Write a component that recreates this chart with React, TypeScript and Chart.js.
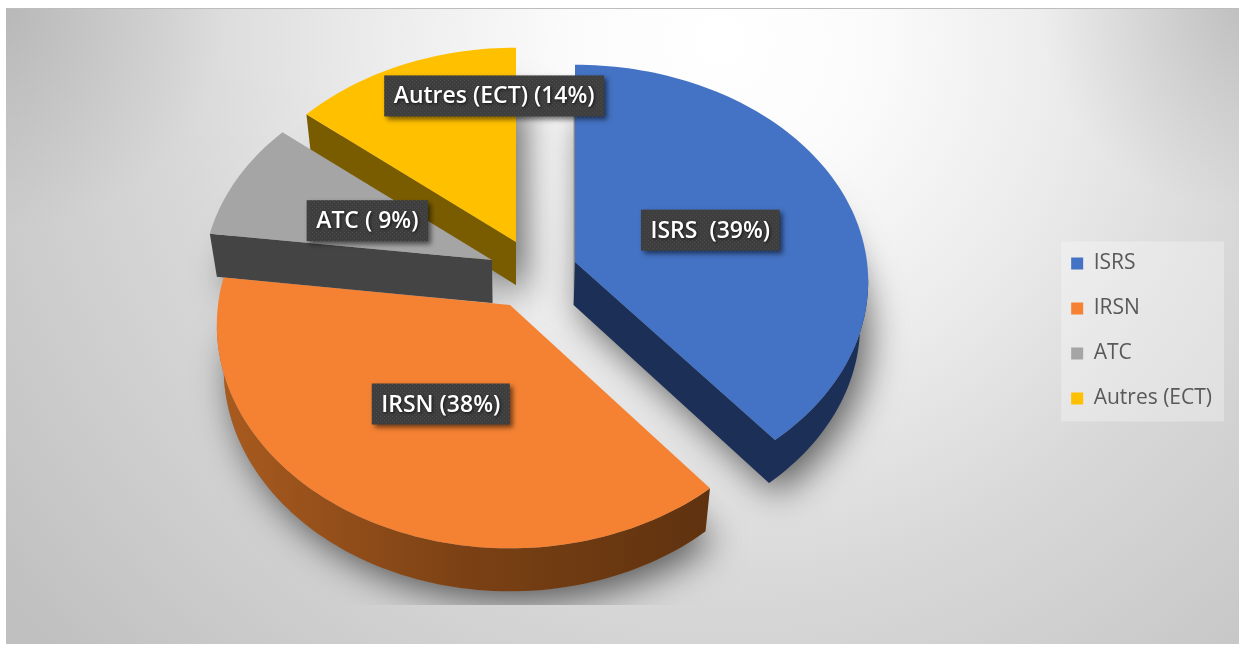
import React, { useEffect, useRef } from "react";
import { Chart, registerables } from "chart.js";

Chart.register(...registerables);

const categories = ["ISRS", "IRSN", "ATC", "Autres (ECT)"];
const shares = [39, 38, 9, 14];
const dataLabels = ["ISRS  (39%)", "IRSN (38%)", "ATC ( 9%)", "Autres (ECT) (14%)"];
const topColors = ["#4472C4", "#F58233", "#A5A5A5", "#FFC000"];

// Perspective view of the exploded disc
const apexes = [[575, 262], [510, 305], [492, 260], [516, 242]];
const scaleX = [1, 1, 0.985, 0.985];
const scaleY = [1, 1.03, 0.985, 0.985];
const labelNudge = [[0, 4], [4, -2], [5, 2], [37, -54]];
const drawOrder = [3, 2, 0, 1];
const RX = 292, RY = 215, PERSP = 0.09, DEPTH = 43, VANISH_X = 516, DEPTH_SHRINK = 0.977;

const project = (i: number, r: number, theta: number) => {
  const u = r * Math.sin(theta), v = r * Math.cos(theta);
  const w = 1 + PERSP * v;
  return [apexes[i][0] + (scaleX[i] * RX * u) / w, apexes[i][1] - (scaleY[i] * RY * v) / w];
};
const drop = (p: number[]) => [VANISH_X + (p[0] - VANISH_X) * DEPTH_SHRINK, p[1] + DEPTH];

const outline = (i: number, a0: number, a1: number) => {
  const pts: number[][] = [[...apexes[i]]];
  const n = Math.max(8, Math.round((a1 - a0) * 40));
  for (let k = 0; k <= n; k++) pts.push(project(i, 1, a0 + ((a1 - a0) * k) / n));
  return pts;
};
const trace = (ctx: CanvasRenderingContext2D, pts: number[][]) => {
  ctx.beginPath();
  pts.forEach((p, k) => (k ? ctx.lineTo(p[0], p[1]) : ctx.moveTo(p[0], p[1])));
  ctx.closePath();
};
const sideFill = (ctx: CanvasRenderingContext2D, i: number) => {
  if (i === 1) {
    const g = ctx.createLinearGradient(220, 0, 710, 0);
    g.addColorStop(0, "#A95B1F");
    g.addColorStop(0.5, "#7B4114");
    g.addColorStop(1, "#5F320F");
    return g;
  }
  return ["#1B2F57", "", "#444444", "#7A5C00"][i];
};
// runs of perimeter edges that face the viewer (walking clockwise, they head left)
const frontRuns = (pts: number[][]) => {
  const runs: number[][][] = [];
  let run: number[][] | null = null;
  for (let k = 0; k < pts.length; k++) {
    const a = pts[k], b = pts[(k + 1) % pts.length];
    if (b[0] - a[0] < -1e-6) {
      if (!run) run = [a];
      run.push(b);
    } else if (run) {
      runs.push(run);
      run = null;
    }
  }
  if (run) runs.push(run);
  return runs;
};

const disc3d = {
  id: "disc3d",
  beforeDraw(chart: any) {
    const { ctx, width, height } = chart;
    ctx.save();
    ctx.fillStyle = "#FFFFFF";
    ctx.fillRect(0, 0, width, height);
    const g = ctx.createRadialGradient(720, 40, 0, 720, 40, 900);
    g.addColorStop(0, "#FFFFFF");
    g.addColorStop(0.167, "#FBFBFB");
    g.addColorStop(0.39, "#EBEBEB");
    g.addColorStop(0.61, "#D8D8D8");
    g.addColorStop(0.94, "#C4C4C4");
    g.addColorStop(1, "#C0C0C0");
    ctx.fillStyle = g;
    ctx.fillRect(6, 9, 1233, 635);
    const gl = ctx.createRadialGradient(6, 9, 0, 6, 9, 220);
    gl.addColorStop(0, "rgba(0,0,0,0.1)");
    gl.addColorStop(1, "rgba(0,0,0,0)");
    ctx.fillStyle = gl;
    ctx.fillRect(6, 9, 220, 220);
    const gr = ctx.createRadialGradient(1239, 9, 0, 1239, 9, 200);
    gr.addColorStop(0, "rgba(0,0,0,0.12)");
    gr.addColorStop(1, "rgba(0,0,0,0)");
    ctx.fillStyle = gr;
    ctx.fillRect(1039, 9, 200, 200);
    ctx.fillStyle = "#BDBDBD";
    ctx.fillRect(6, 8, 1233, 1);
    // legend panel, fitted around the legend's own items
    const boxes = chart.legend.legendHitBoxes;
    const first = boxes[0], last = boxes[boxes.length - 1];
    const left = Math.min(...boxes.map((b: any) => b.left)) - 10;
    const right = Math.max(...boxes.map((b: any) => b.left + b.width)) + 12;
    const top = first.top + first.height / 2 - 22;
    const bottom = last.top + last.height / 2 + 23;
    ctx.fillStyle = "rgba(255,255,255,0.3)";
    ctx.fillRect(left, top, right - left, bottom - top);
    ctx.restore();
  },
  beforeDatasetDraw(chart: any) {
    const { ctx } = chart;
    const arcs = chart.getDatasetMeta(0).data;
    const ang = arcs.map((a: any) => [a.startAngle + Math.PI / 2, a.endAngle + Math.PI / 2]);
    ctx.save();
    // soft shadow cast on the backdrop, clipped to the shadow plane
    ctx.save();
    ctx.beginPath();
    ctx.rect(6, 9, 1233, 596);
    ctx.clip();
    ctx.shadowColor = "rgba(0,0,0,0.6)";
    ctx.shadowBlur = 36;
    ctx.shadowOffsetX = 8;
    ctx.shadowOffsetY = 10;
    ctx.fillStyle = "#888";
    for (const i of drawOrder) {
      trace(ctx, outline(i, ang[i][0], ang[i][1]).map(drop));
      ctx.fill();
    }
    ctx.restore();
    for (const i of drawOrder) {
      const pts = outline(i, ang[i][0], ang[i][1]);
      ctx.fillStyle = sideFill(ctx, i);
      for (const run of frontRuns(pts)) {
        trace(ctx, [...run, ...run.map(drop).reverse()]);
        ctx.fill();
      }
      trace(ctx, pts);
      ctx.fillStyle = arcs[i].options.backgroundColor;
      ctx.fill();
    }
    ctx.restore();
    return false;
  },
  afterDraw(chart: any) {
    const { ctx } = chart;
    const arcs = chart.getDatasetMeta(0).data;
    // dotted dark fill of the data labels
    const tile = document.createElement("canvas");
    tile.width = tile.height = 4;
    const tc = tile.getContext("2d")!;
    tc.fillStyle = "#3E3E3E";
    tc.fillRect(0, 0, 4, 4);
    tc.fillStyle = "#4C4C4C";
    tc.fillRect(0, 0, 1, 1);
    tc.fillRect(2, 2, 1, 1);
    const pattern = ctx.createPattern(tile, "repeat");
    ctx.save();
    ctx.font = "600 23px 'Open Sans'";
    ctx.textAlign = "center";
    ctx.textBaseline = "middle";
    dataLabels.forEach((text: string, i: number) => {
      const mid = (arcs[i].startAngle + arcs[i].endAngle) / 2 + Math.PI / 2;
      const c = project(i, 0.5, mid);
      const x = c[0] + labelNudge[i][0], y = c[1] + labelNudge[i][1];
      const w = ctx.measureText(text).width + 19, h = 41;
      ctx.shadowColor = "rgba(0,0,0,0.55)";
      ctx.shadowBlur = 5;
      ctx.shadowOffsetX = 3;
      ctx.shadowOffsetY = 3;
      ctx.fillStyle = pattern;
      ctx.fillRect(x - w / 2, y - h / 2, w, h);
      ctx.shadowColor = "rgba(0,0,0,0.7)";
      ctx.shadowBlur = 3;
      ctx.shadowOffsetX = 1;
      ctx.shadowOffsetY = 1;
      ctx.fillStyle = "#FFFFFF";
      ctx.fillText(text, x, y + 1);
    });
    ctx.restore();
  },
};

export default function App() {
  const ref = useRef<HTMLCanvasElement>(null);
  useEffect(() => {
    const chart = new Chart(ref.current!, {
      type: "pie",
      data: {
        labels: categories,
        datasets: [{ data: shares, backgroundColor: topColors, borderWidth: 0 }],
      },
      options: {
        responsive: false,
        animation: false,
        layout: { padding: { top: 17, right: 17, bottom: 0, left: 0 } },
        plugins: {
          tooltip: { enabled: false },
          legend: {
            position: "right",
            onClick: () => {},
            labels: {
              boxWidth: 12,
              boxHeight: 12,
              padding: 24,
              color: "#595959",
              font: { family: "'Open Sans'", size: 21 },
            },
          },
        },
      },
      plugins: [disc3d],
    });
    return () => chart.destroy();
  }, []);
  return (
    <div style={{ position: "absolute", left: 0, top: 0, width: 1239, height: 645 }}>
      <canvas ref={ref} width={1239} height={645} style={{ display: "block" }} />
    </div>
  );
}
